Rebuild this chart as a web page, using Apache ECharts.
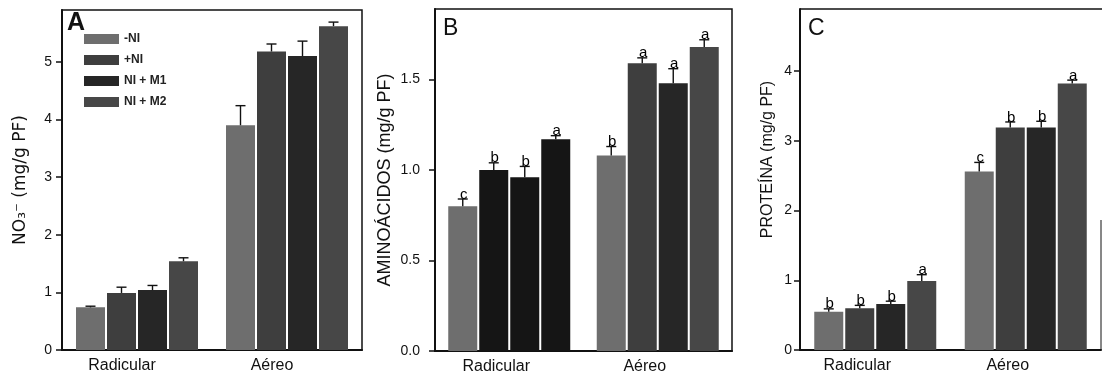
<!DOCTYPE html>
<html>
<head>
<meta charset="utf-8">
<script src="https://cdn.jsdelivr.net/npm/echarts@6/dist/echarts.min.js"></script>
<style>
  html, body { margin: 0; padding: 0; background: #fff; }
  #chart { width: 1102px; height: 378px; }
</style>
</head>
<body>
<div id="chart"></div>
<script>
// Categories and treatments
const categories = ['Radicular', 'Aéreo'];
const treatments = ['-NI', '+NI', 'NI + M1', 'NI + M2'];

// A: nitrate (mg/g PF), one row per treatment: [Radicular, Aéreo]
const nitrateMeans  = [[0.74, 3.90], [0.99, 5.18], [1.04, 5.10], [1.54, 5.62]];
const nitrateErrors = [[0.02, 0.34], [0.10, 0.13], [0.08, 0.26], [0.06, 0.07]];
const nitrateTicks  = [0, 1, 2, 3, 4, 5];

// B: amino acids (mg/g PF)
const aminoMeans   = [[0.80, 1.08], [1.00, 1.59], [0.96, 1.48], [1.17, 1.68]];
const aminoErrors  = [[0.04, 0.05], [0.04, 0.03], [0.06, 0.08], [0.02, 0.04]];
const aminoLetters = [['c', 'b'], ['b', 'a'], ['b', 'a'], ['a', 'a']];
const aminoTicks   = [0, 0.5, 1.0, 1.5];

// C: protein (mg/g PF)
const proteinMeans   = [[0.55, 2.56], [0.60, 3.19], [0.66, 3.19], [0.99, 3.82]];
const proteinErrors  = [[0.04, 0.13], [0.04, 0.08], [0.04, 0.09], [0.09, 0.05]];
const proteinLetters = [['b', 'c'], ['b', 'b'], ['b', 'b'], ['a', 'a']];
const proteinTicks   = [0, 1, 2, 3, 4];

// Styling
const barColors = ['#6e6e6e', '#3e3e3e', '#262626', '#474747'];
const darkRootColor = '#151515';  // the darker root bars of panel B
const BAR_W = 29, BAR_GAP = 2;
const FONT = '"Liberation Sans", Arial, sans-serif';
const INK = '#111';

function barOffset(i) {
  const total = treatments.length * BAR_W + (treatments.length - 1) * BAR_GAP;
  return -total / 2 + i * (BAR_W + BAR_GAP) + BAR_W / 2;
}

function errorRenderer(i, letters) {
  const dx = barOffset(i);
  return function (params, api) {
    const cat = api.value(0), v = api.value(1), e = api.value(2);
    const base = api.coord([cat, v]);
    const top = api.coord([cat, v + e]);
    const x = base[0] + dx;
    const children = [
      { type: 'line', shape: { x1: x, y1: base[1], x2: x, y2: top[1] }, style: { stroke: INK, lineWidth: 1.4 } },
      { type: 'line', shape: { x1: x - 5, y1: top[1], x2: x + 5, y2: top[1] }, style: { stroke: INK, lineWidth: 1.4 } }
    ];
    if (letters) {
      children.push({
        type: 'text',
        style: {
          text: letters[params.dataIndex], x: x + 1, y: top[1] + 3,
          align: 'center', verticalAlign: 'bottom',
          font: '15px ' + FONT, fill: '#000'
        }
      });
    }
    return { type: 'group', children: children };
  };
}

function panelSeries(panel, means, errors, letters, colorFor) {
  const out = [];
  treatments.forEach(function (name, i) {
    out.push({
      type: 'bar', name: name,
      xAxisIndex: panel, yAxisIndex: panel,
      barWidth: BAR_W, barGap: (BAR_GAP / BAR_W * 100) + '%',
      itemStyle: { color: barColors[i] },
      data: means[i].map(function (v, j) {
        const c = colorFor ? colorFor(i, j) : null;
        return c ? { value: v, itemStyle: { color: c } } : v;
      })
    });
  });
  treatments.forEach(function (name, i) {
    out.push({
      type: 'custom', name: name + ' err',
      xAxisIndex: panel, yAxisIndex: panel, z: 5,
      renderItem: errorRenderer(i, letters ? letters[i] : null),
      data: means[i].map(function (v, j) { return [j, v, errors[i][j]]; })
    });
  });
  return out;
}

function xAxisFor(panel, shift) {
  return {
    type: 'category', gridIndex: panel, data: categories,
    axisLine: { lineStyle: { color: INK, width: 2 } },
    axisTick: { show: false },
    axisLabel: { color: INK, fontFamily: FONT, fontSize: 16, margin: 8, padding: [0, shift, 0, 0] }
  };
}

function yAxisFor(panel, max, ticks, opts) {
  return {
    type: 'value', gridIndex: panel, min: 0, max: max,
    name: opts.name, nameLocation: 'middle', nameGap: opts.nameGap,
    nameTextStyle: Object.assign({ color: INK, fontFamily: FONT, fontSize: opts.nameSize }, opts.nameStyle || {}),
    axisLine: { show: true, lineStyle: { color: INK, width: 2 } },
    axisTick: { show: true, inside: false, length: 6, lineStyle: { color: INK, width: 1.5 }, customValues: ticks },
    axisLabel: { color: INK, fontFamily: FONT, fontSize: 14, margin: opts.labelMargin, customValues: ticks, formatter: opts.formatter },
    splitLine: { show: false }
  };
}

const chart = echarts.init(document.getElementById('chart'), null, { renderer: 'canvas' });

chart.setOption({
  backgroundColor: '#fff',
  animation: false,
  title: [
    { text: 'A', left: 67, top: 11, padding: 0, textStyle: { fontFamily: FONT, fontSize: 25, fontWeight: 'bold', color: INK } },
    { text: 'B', left: 443, top: 17, padding: 0, textStyle: { fontFamily: FONT, fontSize: 23, fontWeight: 'normal', color: INK } },
    { text: 'C', left: 808, top: 17, padding: 0, textStyle: { fontFamily: FONT, fontSize: 23, fontWeight: 'normal', color: INK } }
  ],
  legend: {
    data: treatments, orient: 'vertical', left: 84, top: 33,
    itemWidth: 35, itemHeight: 10, itemGap: 9, icon: 'rect', padding: 0,
    textStyle: { fontFamily: FONT, fontSize: 12, fontWeight: 'bold', color: '#222' }
  },
  grid: [
    { left: 62, top: 10, width: 300, height: 340, show: true, borderColor: INK, borderWidth: 1.5, backgroundColor: 'transparent' },
    { left: 435, top: 9, width: 297, height: 342, show: true, borderColor: INK, borderWidth: 1.5, backgroundColor: 'transparent' },
    { left: 800, top: 9, width: 301, height: 341, show: false }
  ],
  xAxis: [xAxisFor(0, 30), xAxisFor(1, 26), xAxisFor(2, 36)],
  yAxis: [
    yAxisFor(0, 5.9, nitrateTicks, {
      name: 'NO₃⁻ (mg/g PF)', nameGap: 33, nameSize: 18, labelMargin: 10,
      nameStyle: { fontFamily: '"DejaVu Sans", ' + FONT, fontSize: 17 }
    }),
    yAxisFor(1, 1.89, aminoTicks, {
      name: 'AMINOÁCIDOS (mg/g PF)', nameGap: 41, nameSize: 18, labelMargin: 15,
      formatter: function (v) { return v.toFixed(1); }
    }),
    yAxisFor(2, 4.89, proteinTicks, {
      name: 'PROTEÍNA (mg/g PF)', nameGap: 24, nameSize: 16, labelMargin: 8,
      nameStyle: { padding: [0, 0, 0, 40] }
    })
  ],
  graphic: [
    // open frame of panel C: top edge and the lower part of the right edge
    { type: 'line', shape: { x1: 800, y1: 9, x2: 1102, y2: 9 }, style: { stroke: INK, lineWidth: 1.5 } },
    { type: 'line', shape: { x1: 1101, y1: 220, x2: 1101, y2: 350 }, style: { stroke: INK, lineWidth: 1 } }
  ],
  series: [].concat(
    panelSeries(0, nitrateMeans, nitrateErrors, null, null),
    panelSeries(1, aminoMeans, aminoErrors, aminoLetters, function (i, j) { return (j === 0 && i > 0) ? darkRootColor : null; }),
    panelSeries(2, proteinMeans, proteinErrors, proteinLetters, null)
  )
});
</script>
</body>
</html>
